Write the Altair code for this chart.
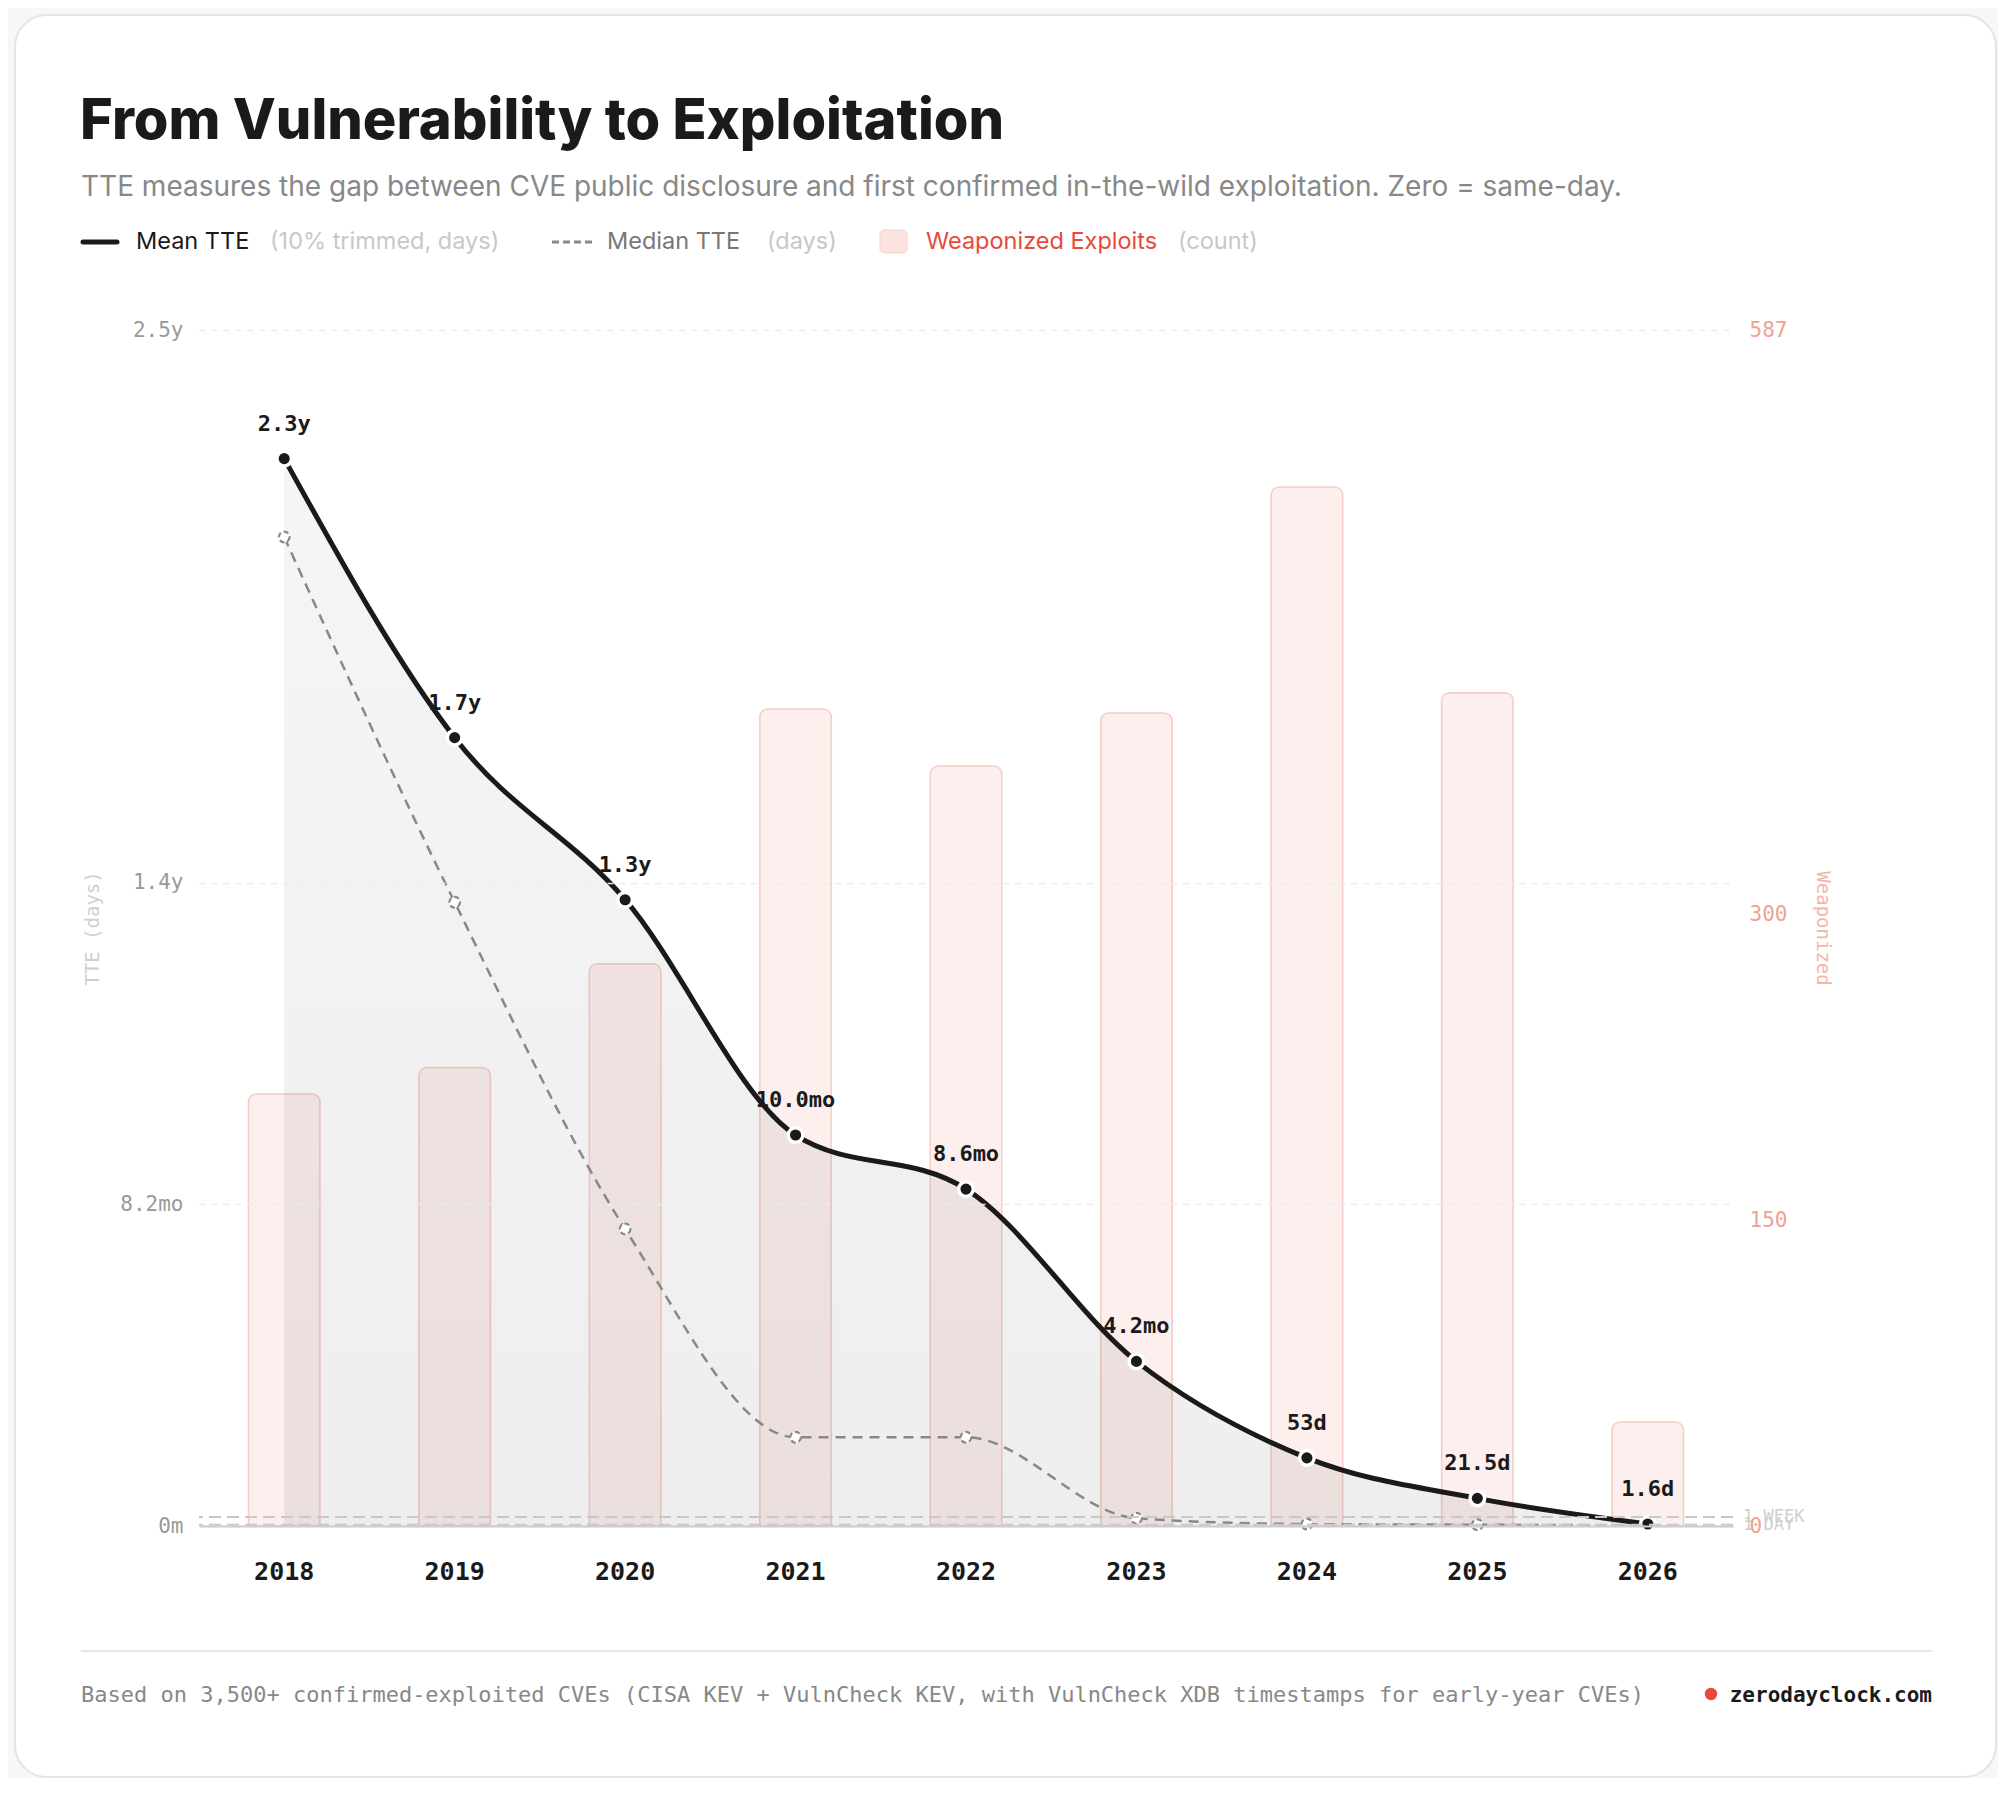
import altair as alt
import pandas as pd

# ---------------- data ----------------
years = ["2018", "2019", "2020", "2021", "2022", "2023", "2024", "2025", "2026"]
mean_days = [830, 613, 487, 304, 262, 128, 53, 21.5, 1.6]
mean_labels = ["2.3y", "1.7y", "1.3y", "10.0mo", "8.6mo", "4.2mo", "53d", "21.5d", "1.6d"]
median_days = [769, 485, 231, 69, 69, 6, 1.5, 1.0, 0.5]
weaponized = [212, 225, 276, 401, 373, 399, 510, 409, 51]

tte_ticks = [0, 250, 500, 930]
tte_tick_labels = ["0m", "8.2mo", "1.4y", "2.5y"]
count_ticks = [0, 150, 300, 587]
ref_days = [7, 1]
ref_labels = ["1 WEEK", "1 DAY"]

TITLE = "From Vulnerability to Exploitation"
SUBTITLE = ("TTE measures the gap between CVE public disclosure and first confirmed "
            "in-the-wild exploitation. Zero = same-day.")
FOOTER = ("Based on 3,500+ confirmed-exploited CVEs (CISA KEV + VulnCheck KEV, "
          "with VulnCheck XDB timestamps for early-year CVEs)")
SITE = "zerodayclock.com"

df = pd.DataFrame({"year": years, "mean": mean_days, "median": median_days,
                   "count": weaponized, "label": mean_labels})
ref_df = pd.DataFrame({"v": ref_days, "lab": ref_labels})

W, H = 1534, 1196
MONO = "DejaVu Sans Mono"
SANS = "Inter"

label_expr = " : ".join(
    f"datum.value == {v} ? '{l}'" for v, l in zip(tte_ticks, tte_tick_labels)
) + " : ''"

xscale = alt.Scale(type="band", paddingInner=0.58, paddingOuter=0.29)
x_axis = alt.Axis(labelFont=MONO, labelFontSize=25, labelFontWeight="bold",
                  labelColor="#1a1a1a", labelPadding=33, labelAngle=0,
                  ticks=False, tickSize=0, domain=True, domainColor="#cccccc",
                  domainWidth=2, grid=False, zindex=1, title=None)
x_bar = alt.X("year:N", scale=xscale, axis=x_axis, title=None)
x_pt = alt.X("year:N", scale=xscale, axis=x_axis, title=None, bandPosition=0.5)

yscale = alt.Scale(domain=[0, 930], nice=False, zero=True)
y_axis = alt.Axis(orient="left", values=tte_ticks, labelExpr=label_expr,
                  labelFont=MONO, labelFontSize=21, labelColor="#999999",
                  labelPadding=16, ticks=False, domain=False, grid=True,
                  gridColor="#ececec", gridDash=[6, 6], gridWidth=1.5,
                  zindex=1, title="TTE (days)", titleFont=MONO,
                  titleFontSize=19, titleFontWeight="normal",
                  titleColor="#cfcfcf", titleAngle=-90, titleX=-107,
                  titleY=598, titleBaseline="middle")


def ytte(field):
    return alt.Y(field, scale=yscale, axis=y_axis, title="TTE (days)")


# ---------------- card ----------------
one = pd.DataFrame({"k": [0]})
card = alt.Chart(one).mark_rect(fill="white", stroke="#e4e4e8", strokeWidth=2,
                                cornerRadius=32).encode(
    x=alt.value(-184), x2=alt.value(1797), y=alt.value(-315), y2=alt.value(1447))

# ---------------- bars (right axis) ----------------
bars = alt.Chart(df).mark_bar(fill="#fcefed", stroke="#f5cfc8", strokeWidth=1.5,
                              cornerRadiusTopLeft=8, cornerRadiusTopRight=8).encode(
    x=x_bar,
    y=alt.Y("count:Q", scale=alt.Scale(domain=[0, 587], nice=False),
            title="Weaponized",
            axis=alt.Axis(orient="right", values=count_ticks, labelFont=MONO,
                          labelFontSize=21, labelColor="#f2a193", labelPadding=16,
                          ticks=False, domain=False, grid=False, zindex=1,
                          title="Weaponized", titleFont=MONO, titleFontSize=19,
                          titleFontWeight="normal", titleColor="#f5b5ab",
                          titleAngle=90, titleX=89, titleY=598,
                          titleBaseline="middle")),
)

# ---------------- TTE layers (left axis) ----------------
area = alt.Chart(df).mark_area(
    interpolate="monotone",
    color=alt.Gradient(gradient="linear", x1=0, x2=0, y1=0, y2=1,
                       stops=[alt.GradientStop(color="rgba(0,0,0,0.04)", offset=0),
                              alt.GradientStop(color="rgba(0,0,0,0.065)", offset=1)]),
).encode(x=x_pt, y=ytte("mean:Q"))

median_line = alt.Chart(df).mark_line(interpolate="monotone", color="#888888",
                                      strokeWidth=2.5, strokeDash=[10, 7]).encode(
    x=x_pt, y=ytte("median:Q"))

mean_line = alt.Chart(df).mark_line(interpolate="monotone", color="#1a1a1a",
                                    strokeWidth=5, strokeCap="round").encode(
    x=x_pt, y=ytte("mean:Q"))

median_pts = alt.Chart(df).mark_point(shape="circle", filled=False, fill="white",
                                      fillOpacity=1, stroke="#888888", strokeWidth=2.2,
                                      strokeDash=[5, 3], size=115, opacity=1).encode(
    x=x_pt, y=ytte("median:Q"))

mean_pts = alt.Chart(df).mark_circle(size=214, fill="#1a1a1a", stroke="white",
                                     strokeWidth=3.5, opacity=1).encode(
    x=x_pt, y=ytte("mean:Q"))

mean_text = alt.Chart(df).mark_text(font=MONO, fontSize=22, fontWeight="bold",
                                    color="#1a1a1a", dy=-28, baseline="alphabetic",
                                    align="center").encode(
    x=x_pt, y=ytte("mean:Q"), text="label:N")

ref_rules = alt.Chart(ref_df).mark_rule(color="#c8c8c8", strokeWidth=2,
                                        strokeDash=[12, 6]).encode(
    y=ytte("v:Q"))

ref_text = alt.Chart(ref_df).mark_text(font=MONO, fontSize=17, color="#cfcfcf",
                                       align="left", baseline="middle").encode(
    x=alt.value(W + 10), y=ytte("v:Q"), text="lab:N")

tte = alt.layer(area, median_line, mean_line, median_pts, mean_pts, mean_text,
                ref_rules, ref_text)


# ---------------- decorations ----------------
def txt(s, x, y, **kw):
    return alt.Chart(pd.DataFrame({"t": [s]})).mark_text(**kw).encode(
        x=alt.value(x), y=alt.value(y), text="t:N")


title = txt(TITLE, -119, -191, font=SANS, fontSize=56, fontWeight=800,
            color="#1a1a1a", align="left", baseline="alphabetic")
subtitle = txt(SUBTITLE, -118, -134, font=SANS, fontSize=28, color="#888888",
               align="left", baseline="alphabetic")

LEG_Y = -88
LFS = 23.5
leg_mean_sw = alt.Chart(one).mark_rule(color="#1a1a1a", strokeWidth=5,
                                       strokeCap="round").encode(
    x=alt.value(-116), x2=alt.value(-82), y=alt.value(LEG_Y))
leg_mean = txt("Mean TTE", -63, LEG_Y, font=SANS, fontSize=LFS, color="#1a1a1a",
               align="left", baseline="middle")
leg_mean_n = txt("(10% trimmed, days)", 71, LEG_Y, font=SANS, fontSize=LFS,
                 color="#c8c8c8", align="left", baseline="middle")
leg_med_sw = alt.Chart(one).mark_rule(color="#888888", strokeWidth=3,
                                      strokeDash=[7, 4]).encode(
    x=alt.value(353), x2=alt.value(394), y=alt.value(LEG_Y))
leg_med = txt("Median TTE", 408, LEG_Y, font=SANS, fontSize=LFS, color="#777777",
              align="left", baseline="middle")
leg_med_n = txt("(days)", 568, LEG_Y, font=SANS, fontSize=LFS, color="#c8c8c8",
                align="left", baseline="middle")
leg_w_sw = alt.Chart(one).mark_rect(fill="#fbe3e0", stroke="#f8d3cd", strokeWidth=1,
                                    cornerRadius=4).encode(
    x=alt.value(681), x2=alt.value(708), y=alt.value(-100), y2=alt.value(-77))
leg_w = txt("Weaponized Exploits", 727, LEG_Y, font=SANS, fontSize=LFS,
            color="#e8493a", align="left", baseline="middle")
leg_w_n = txt("(count)", 979, LEG_Y, font=SANS, fontSize=LFS, color="#c8c8c8",
              align="left", baseline="middle")

foot_rule = alt.Chart(one).mark_rule(color="#e5e5ea", strokeWidth=2).encode(
    x=alt.value(-118), x2=alt.value(1733), y=alt.value(1321))
foot_txt = txt(FOOTER, -118, 1372, font=MONO, fontSize=22, color="#888888",
               align="left", baseline="alphabetic")
site_txt = txt(SITE, 1733, 1372, font=MONO, fontSize=21, fontWeight="bold",
               color="#1a1a1a", align="right", baseline="alphabetic")
site_dot = alt.Chart(one).mark_circle(color="#e8493a", size=154, opacity=1).encode(
    x=alt.value(1512), y=alt.value(1364))

chart = alt.layer(
    card, bars, tte,
    title, subtitle,
    leg_mean_sw, leg_mean, leg_mean_n, leg_med_sw, leg_med, leg_med_n,
    leg_w_sw, leg_w, leg_w_n,
    foot_rule, foot_txt, site_txt, site_dot,
).resolve_scale(y="independent").properties(
    width=W, height=H,
    background="#f7f7f8",
    padding={"left": 191, "top": 322, "right": 265, "bottom": 252},
    autosize=alt.AutoSizeParams(type="none"),
).configure_view(strokeOpacity=0)

chart.save("out.html", embed_options={"renderer": "svg", "actions": False})
